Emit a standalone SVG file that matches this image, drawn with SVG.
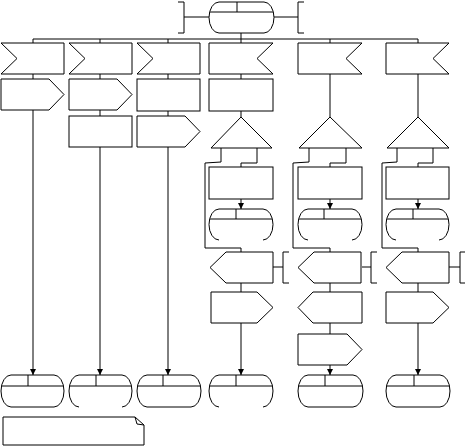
<svg xmlns="http://www.w3.org/2000/svg" width="465" height="446" viewBox="0 0 465 446">
<style>
.n{fill:#fff;stroke:#000;stroke-width:1}
.o{fill:none;stroke:#000;stroke-width:1}
.c{fill:none;stroke:#000;stroke-width:1}
</style>
<defs>
<marker id="ah" markerWidth="6" markerHeight="6" refX="6" refY="3" orient="auto" markerUnits="userSpaceOnUse">
<path d="M0,0 L6,3 L0,6 Z" fill="#000"/>
</marker>
</defs>
<rect width="465" height="446" fill="#fff"/>
<g id="connectors">
<path class="c" d="M33,43 V39 H418 V43 M100,39 V43 M168,39 V43 M241,39 V43 M330,39 V43 M241,33 V39"/>
<path class="c" d="M178,2 H184 V33 H178 M184,17 H209 M274,17 H298 M304,2 H298 V33 H304"/>
<path class="c" d="M33,74 V79"/>
<path class="c" d="M33,110 V375" marker-end="url(#ah)"/>
<path class="c" d="M100,74 V79 M100,110 V116"/>
<path class="c" d="M100,147 V375" marker-end="url(#ah)"/>
<path class="c" d="M168,74 V79 M168,111 V116"/>
<path class="c" d="M168,147 V375" marker-end="url(#ah)"/>
<path class="c" d="M241,74 V79 M241,111 V117 M221,148 V162 L205,163 V248 H241 V252 M257,148 V163 H241 V167 M241,283 V292"/>
<path class="c" d="M241,199 V209" marker-end="url(#ah)"/>
<path class="c" d="M241,323 V375" marker-end="url(#ah)"/>
<path class="c" d="M273,267 H283 M289,252 H283 V283 H289"/>
<path class="c" d="M330,74 V117 M309,148 V162 L293,163 V248 H330 V252 M346,148 V163 H330 V167 M330,283 V292 M330,323 V334"/>
<path class="c" d="M330,199 V209" marker-end="url(#ah)"/>
<path class="c" d="M330,365 V375" marker-end="url(#ah)"/>
<path class="c" d="M362,267 H371 M377,252 H371 V283 H377"/>
<path class="c" d="M418,74 V117 M397,148 V162 L382,163 V248 H418 V252 M433,148 V163 H418 V167 M418,283 V292"/>
<path class="c" d="M418,199 V209" marker-end="url(#ah)"/>
<path class="c" d="M418,323 V375" marker-end="url(#ah)"/>
<path class="c" d="M449,267 H460 M466,252 H460 V283 H466"/>
</g>
<g id="start">
<path class="n" d="M219,2 H264 A10 15.5 0 0 1 264,33 H219 A10 15.5 0 0 1 219,2 Z"/>
<path class="o" d="M210,12 H273 M237,2 V12"/>
</g>
<g id="in1"><path class="n" d="M1,43 H64 V74 H1 L17,58.5 Z"/></g>
<g id="in2"><path class="n" d="M69,43 H132 V74 H69 L85,58.5 Z"/></g>
<g id="in3"><path class="n" d="M137,43 H200 V74 H137 L153,58.5 Z"/></g>
<g id="in4"><path class="n" d="M209,43 H273 L257,58.5 L273,74 H209 Z"/></g>
<g id="in5"><path class="n" d="M298,43 H362 L346,58.5 L362,74 H298 Z"/></g>
<g id="in6"><path class="n" d="M386,43 H449 L433,58.5 L449,74 H386 Z"/></g>
<g id="out1"><path class="n" d="M1,79 H49 L64,94.5 L49,110 H1 Z"/></g>
<g id="out2"><path class="n" d="M69,79 H117 L132,94.5 L117,110 H69 Z"/></g>
<g id="task3"><rect class="n" x="137" y="79" width="63" height="32"/></g>
<g id="task4"><rect class="n" x="209" y="79" width="64" height="32"/></g>
<g id="task2b"><rect class="n" x="69" y="116" width="63" height="31"/></g>
<g id="out3"><path class="n" d="M137,116 H185 L200,131.5 L185,147 H137 Z"/></g>
<g id="dec4"><path class="n" d="M241,117 L272,148 H211 Z"/></g>
<g id="dec5"><path class="n" d="M330,117 L362,148 H299 Z"/></g>
<g id="dec6"><path class="n" d="M418,117 L449,148 H387 Z"/></g>
<g id="task4b"><rect class="n" x="209" y="167" width="64" height="32"/></g>
<g id="task5b"><rect class="n" x="298" y="167" width="64" height="32"/></g>
<g id="task6b"><rect class="n" x="386" y="167" width="63" height="32"/></g>
<g id="mid4">
<path class="o" d="M219,240 A10 15.5 0 0 1 219,209 H263 A10 15.5 0 0 1 263,240"/>
<path class="o" d="M210,219 H272 M236,209 V219"/>
</g>
<g id="mid5">
<path class="o" d="M308,240 A10 15.5 0 0 1 308,209 H352 A10 15.5 0 0 1 352,240"/>
<path class="o" d="M299,219 H361 M324,209 V219"/>
</g>
<g id="mid6">
<path class="o" d="M396,240 A10 15.5 0 0 1 396,209 H439 A10 15.5 0 0 1 439,240"/>
<path class="o" d="M387,219 H448 M413,209 V219"/>
</g>
<g id="sv4"><path class="n" d="M226,252 H273 V283 H226 L210,267.5 Z"/></g>
<g id="sv5"><path class="n" d="M314,252 H361 V283 H314 L298,267.5 Z"/></g>
<g id="sv6"><path class="n" d="M402,252 H449 V283 H402 L386,267.5 Z"/></g>
<g id="out4b"><path class="n" d="M211,292 H257 L273,307.5 L257,323 H211 Z"/></g>
<g id="in5b"><path class="n" d="M313,292 H362 V323 H313 L298,307.5 Z"/></g>
<g id="out6b"><path class="n" d="M386,292 H433 L449,307.5 L433,323 H386 Z"/></g>
<g id="out5c"><path class="n" d="M298,334 H347 L362,349.5 L347,365 H298 Z"/></g>
<g id="end1">
<path class="n" d="M11,375 H54 A10 16 0 0 1 54,407 H11 A10 16 0 0 1 11,375 Z"/>
<path class="o" d="M2,386 H63 M28,375 V386"/>
</g>
<g id="end2">
<path class="o" d="M79,407 A10 16 0 0 1 79,375 H122 A10 16 0 0 1 122,407"/>
<path class="o" d="M70,386 H131 M96,375 V386"/>
</g>
<g id="end3">
<path class="n" d="M147,375 H191 A10 16 0 0 1 191,407 H147 A10 16 0 0 1 147,375 Z"/>
<path class="o" d="M138,386 H200 M163,375 V386"/>
</g>
<g id="end4">
<path class="o" d="M219,407 A10 16 0 0 1 219,375 H263 A10 16 0 0 1 263,407"/>
<path class="o" d="M210,386 H272 M236,375 V386"/>
</g>
<g id="end5">
<path class="n" d="M308,375 H353 A10 16 0 0 1 353,407 H308 A10 16 0 0 1 308,375 Z"/>
<path class="o" d="M299,386 H362 M325,375 V386"/>
</g>
<g id="end6">
<path class="n" d="M396,375 H440 A10 16 0 0 1 440,407 H396 A10 16 0 0 1 396,375 Z"/>
<path class="o" d="M387,386 H449 M414,375 V386"/>
</g>
<g id="note">
<path class="n" d="M3,417 H135 L144,425 V445 H3 Z"/>
<path class="o" d="M135,417 L137,424 L144,425"/>
</g>
</svg>
